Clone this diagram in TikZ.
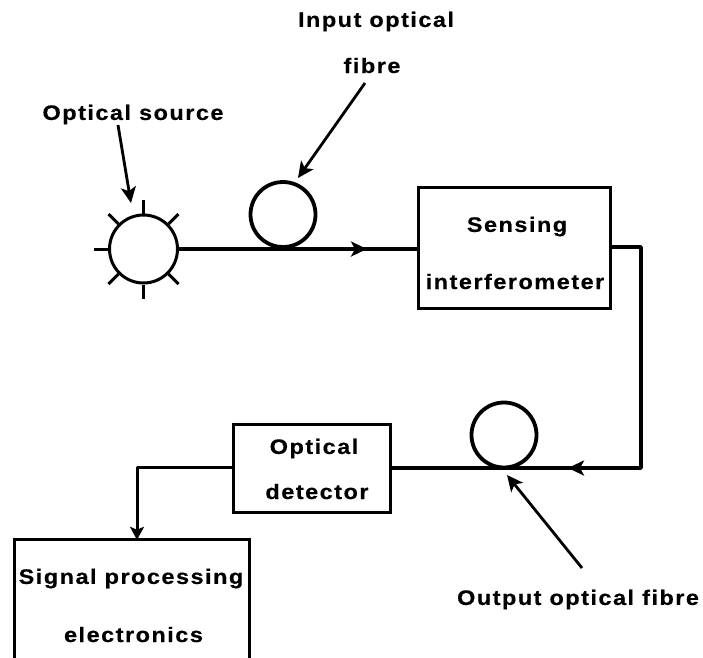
\documentclass[tikz,border=0pt]{standalone}
\usepackage{fontspec}
\setmainfont{Liberation Sans}
\newfontfamily\lblfont[LetterSpace=7,FakeStretch=1.12,FakeBold=0.4]{Liberation Sans Bold}
\usetikzlibrary{arrows.meta}
\tikzset{
  x=1pt,y=-1pt,
  lbl/.style={font=\lblfont\fontsize{21}{24}\selectfont,inner sep=0pt,align=center,text=black,yshift=-1.5pt},
  blockbox/.style={draw,line width=3pt,inner sep=0pt},
  wire/.style={line width=3.6pt},
  feed/.style={line width=3pt},
  pointer/.style={line width=2.8pt},
  loopc/.style={circle,draw,line width=3.8pt,inner sep=0pt,minimum size=65pt},
  src/.style={circle,draw,line width=3pt,inner sep=0pt,minimum size=68pt},
  ray/.style={line width=3pt},
  tip/.style={-{Stealth[length=16pt,width=15pt,inset=4pt]}},
}
\begin{document}
\begin{tikzpicture}
\useasboundingbox (0,0) rectangle (703,657);
\clip (0,0) rectangle (703,657);
% source
\node[src] (source) at (143.5,249) {};
\foreach \a in {0,45,...,315}
  \draw[ray] (source.\a) -- ++(\a:14pt);
% fibre loops
\node[loopc] (inloop) at (283,214.5) {};
\node[loopc] (outloop) at (504,435) {};
% boxes
\node[blockbox,minimum width=192pt,minimum height=121pt] (sensing) at (514,247.5) {};
\node[lbl] (sensingtxt1) at (517,225) {Sensing};
\node[lbl] (sensingtxt2) at (515,280) {interferometer};
\node[blockbox,minimum width=157pt,minimum height=88pt] (detector) at (312,468) {};
\node[lbl] (dettxt1) at (314,447) {Optical};
\node[lbl] (dettxt2) at (317,490) {detector};
\node[minimum width=234pt,minimum height=130pt,inner sep=0pt] (signal) at (132,605) {};
\draw[blockbox] (signal.south west) -- (signal.north west) -- (signal.north east) -- (signal.south east);
\node[lbl] (sigtxt1) at (131,577) {Signal processing};
\node[lbl] (sigtxt2) at (133.5,633) {electronics};
% labels
\node[lbl] (sourcelbl) at (133,113) {Optical source};
\node[lbl] (inlbl1) at (376,20) {Input optical};
\node[lbl] (inlbl2) at (372,64) {fibre};
\node[lbl] (outlbl) at (578,598) {Output optical fibre};
% fibre wires
\coordinate (a1) at (367,249);
\draw[wire] (source.east) -- (sensing.west |- a1);
\draw[wire,tip] (source.east) -- (a1);
\coordinate (c1) at (641,247);
\coordinate (c2) at (641,468);
\coordinate (a2) at (568,468);
\draw[wire,line join=round] (sensing.east |- c1) -- (c1) -- (c2) -- (detector.east |- c2);
\draw[wire,tip] (c2) -- (a2);
% electrical
\coordinate (e1) at (137,467);
\draw[feed,line join=round,-{Stealth[length=13pt,width=14pt,inset=3pt]}] (detector.west |- e1) -- (e1) -- (e1 |- signal.north);
% pointers
\coordinate (p1) at (118,125);
\coordinate (p1e) at (131,203);
\coordinate (p2) at (365,83);
\coordinate (p2e) at (298,178);
\coordinate (p3) at (582,568);
\coordinate (p3e) at (507,475);
\draw[pointer,tip] (p1) -- (p1e);
\draw[pointer,tip] (p2) -- (p2e);
\draw[pointer,tip] (p3) -- (p3e);
\end{tikzpicture}
\end{document}
